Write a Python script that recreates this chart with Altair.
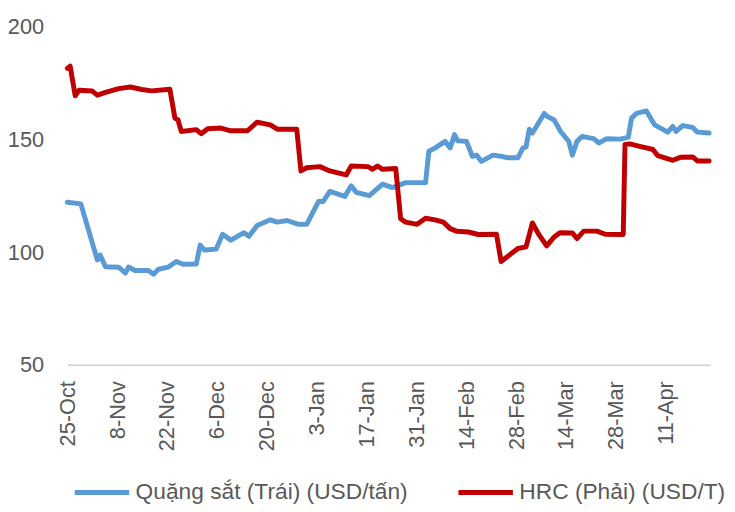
import altair as alt
import pandas as pd

ORE = "Quặng sắt (Trái) (USD/tấn)"
HRC = "HRC (Phải) (USD/T)"
START = "2021-10-25"

# days after 25-Oct-2021 and values (read on the left axis scale)
ore_day = [0, 3.8, 8.4, 9.2, 10.7, 14.4, 16.3, 17.2, 19, 22.8, 24.2, 25.6, 28.3, 30.6, 32.5, 36.2,
           37.3, 38.5, 41.8, 43.6, 45.9, 49.6, 51, 53.3, 57, 58.9, 61.7, 64.9, 67.2, 70.5, 71.8,
           73.7, 77.9, 79.7, 81.1, 84.8, 88.5, 91.3, 95, 100.6, 101.5, 103.3, 106.1, 107.5, 108.7,
           109.6, 112.1, 113.7, 114.9, 116.3, 119.5, 121.8, 123.7, 126.5, 127.9, 128.8, 129.7,
           130.6, 133.9, 134.8, 136.7, 138.5, 140.8, 141.8, 143.1, 144.5, 147.8, 149.2, 151.5,
           155.2, 157.5, 158.4, 159.8, 162.6, 164.9, 168.6, 170, 170.9, 172.8, 175.6, 176.9, 180.2]
ore_val = [122.1, 121.4, 96.5, 98.7, 93.5, 93.3, 90.7, 93.4, 91.8, 91.8, 90.2, 92.4, 93.3, 95.8, 94.6, 94.7,
           103.1, 100.9, 101.3, 107.9, 105.3, 108.6, 107, 111.8, 114.3, 113.3, 114, 112.3, 112.3, 122.4, 122.4,
           126.9, 124.7, 129.4, 126.5, 125, 130.1, 128.6, 130.8, 130.8, 144.7, 146.2, 149.1, 146.2, 152.1,
           149.4, 149.1, 142.5, 143, 140.2, 143, 142.5, 141.8, 141.8, 146.2, 146.6, 154.5,
           152.8, 161.5, 160.1, 158.6, 153.5, 149.1, 143, 149.1, 151.3, 150.3, 148.4, 150.3,
           150.1, 150.9, 159.4, 161.5, 162.6, 156.4, 153.2, 155.7, 153.5, 156.1, 155.3, 153.2, 152.8]

hrc_day = [0, 0.8, 2.2, 3.3, 7, 8.4, 10.7, 14.4, 17.7, 20.9, 23.7, 28.8, 30.2, 31.1, 32, 36.2, 37.6,
           39.4, 43.1, 45.9, 50.6, 53.3, 57, 58.9, 64.4, 65.6, 67.2, 70.9, 73.7, 78.3, 79.7, 84.4,
           85.7, 87.1, 88.5, 92.2, 93.6, 95, 98.2, 100.6, 103.3, 105.6, 107.5, 109.4, 112.6, 115.4,
           120.5, 121.8, 126.5, 128.8, 130.6, 132.5, 134.6, 136.7, 138.3, 141.8, 143.1, 145, 148.7,
           151, 156.1, 156.6, 157.9, 160.7, 162.6, 164.4, 165.8, 170, 172.3, 175.6, 176.9, 180.2]
hrc_val = [181.5, 182.5, 169.3, 171.8, 171.4, 169.6, 170.8, 172.5, 173.2, 172.1, 171.5, 172.2, 159.4, 158.6, 153.5, 154.3, 152.5,
           154.7, 155, 153.8, 153.8, 157.6, 156.4, 154.5, 154.5, 136, 137.4, 137.9, 136, 134.2, 138.2, 137.9,
           136.7, 138.2, 136.7, 137.1, 114.8, 113.3, 112.3, 115, 114.3, 113.3, 110.4, 109.2, 108.9, 107.8,
           107.9, 95.8, 101.6, 102.3, 112.9, 107.5, 102.8, 106.7, 108.6, 108.5, 106, 109.3, 109.3,
           107.9, 107.8, 147.7, 148, 146.9, 146.2, 145.5, 142.8, 140.7, 142.1, 142.2, 140.4, 140.4]

tick_dates = ["2021-10-25", "2021-11-08", "2021-11-22", "2021-12-06", "2021-12-20", "2022-01-03",
              "2022-01-17", "2022-01-31", "2022-02-14", "2022-02-28", "2022-03-14", "2022-03-28",
              "2022-04-11"]
y_ticks = [50, 100, 150, 200]

FONT = "Liberation Sans"
GREY = "#595959"

base = pd.Timestamp(START)


def frame(days, vals, name):
    return pd.DataFrame({
        "date": [base + pd.Timedelta(hours=round(d * 24)) for d in days],
        "value": vals,
        "series": name,
    })


def dt(ts):
    t = pd.Timestamp(ts)
    return alt.DateTime(year=t.year, month=t.month, date=t.day, hours=t.hour)


x = alt.X(
    "date:T",
    title=None,
    scale=alt.Scale(domain=[dt("2021-10-25"), dt("2022-04-23 12:00")]),
    axis=alt.Axis(
        values=[dt(d) for d in tick_dates],
        format="%-d-%b",
        labelAngle=-90,
        labelFont=FONT,
        labelFontSize=22,
        labelColor=GREY,
        labelPadding=16,
        ticks=False,
        tickSize=0,
        grid=False,
        domainColor="#D9D9D9",
        domainWidth=2,
        labelOverlap=False,
    ),
)
y = alt.Y(
    "value:Q",
    title=None,
    scale=alt.Scale(domain=[50, 200], nice=False, zero=False),
    axis=alt.Axis(
        values=y_ticks,
        labelFont=FONT,
        labelFontSize=22,
        labelColor=GREY,
        labelPadding=24,
        ticks=False,
        tickSize=0,
        grid=False,
        domain=False,
    ),
)
color = alt.Color(
    "series:N",
    scale=alt.Scale(domain=[ORE, HRC], range=["#5B9BD5", "#C00000"]),
    legend=alt.Legend(
        title=None,
        orient="none",
        legendX=5,
        legendY=441,
        direction="horizontal",
        symbolType="stroke",
        symbolSize=3025,
        symbolStrokeWidth=5,
        labelFont=FONT,
        labelFontSize=23,
        labelColor=GREY,
        labelLimit=500,
        labelOffset=4,
        columnPadding=40,
        padding=0,
    ),
)

line_style = dict(strokeWidth=5, strokeCap="round", strokeJoin="round")

ore_line = alt.Chart(frame(ore_day, ore_val, ORE)).mark_line(**line_style).encode(x=x, y=y, color=color)
hrc_line = alt.Chart(frame(hrc_day, hrc_val, HRC)).mark_line(**line_style).encode(x=x, y=y, color=color)

chart = (
    alt.layer(ore_line, hrc_line)
    .properties(
        width=650,
        height=342,
        autosize=alt.AutoSizeParams(type="none"),
        padding={"left": 60, "top": 16, "right": 17, "bottom": 146},
        background="white",
    )
    .configure_view(stroke=None)
)

chart.save("out.html", embed_options={"renderer": "svg", "actions": False})
